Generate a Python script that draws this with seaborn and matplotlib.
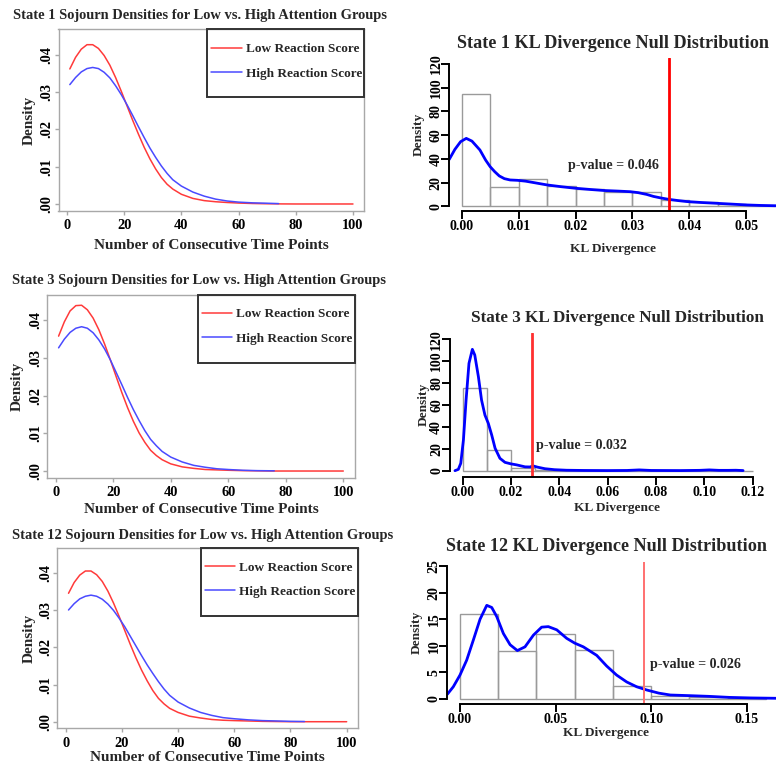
import numpy as np
import matplotlib
matplotlib.use("Agg")
import matplotlib.pyplot as plt
from matplotlib.patches import Rectangle
import seaborn as sns

# ---------------- data ----------------
# Sojourn densities (left column): number of consecutive time points vs density
sj_x = [1, 3, 5, 7, 9, 11, 13, 15, 17, 19, 21, 23, 25, 27, 29, 31, 33, 35, 37,
        40, 44, 48, 52, 56, 60, 65, 70, 75, 80, 90, 100]

s1_low = [0.0362, 0.0393, 0.0415, 0.0427, 0.0427, 0.0417, 0.0398, 0.0372, 0.0339, 0.0302,
          0.0263, 0.0224, 0.0187, 0.0152, 0.0121, 0.0094, 0.0071, 0.0053, 0.0040,
          0.0026, 0.0015, 0.0009, 0.0006, 0.0004, 0.00025, 0.00013, 0.00006, 0.00002, 0.0, 0.0, 0.0]
s1_high_x = [1, 3, 5, 7, 9, 11, 13, 15, 17, 19, 21, 23, 25, 27, 29, 31, 33, 35, 37,
             40, 44, 48, 52, 56, 60, 65, 70, 74]
s1_high = [0.0320, 0.0339, 0.0354, 0.0363, 0.0366, 0.0363, 0.0353, 0.0338, 0.0317, 0.0293,
           0.0266, 0.0237, 0.0207, 0.0178, 0.0150, 0.0125, 0.0102, 0.0082, 0.0065,
           0.0048, 0.0032, 0.0021, 0.0013, 0.0008, 0.0005, 0.0003, 0.0002, 0.0001]

s3_low = [0.0358, 0.0396, 0.0425, 0.0439, 0.0440, 0.0428, 0.0406, 0.0375, 0.0337, 0.0295,
          0.0251, 0.0208, 0.0168, 0.0132, 0.0101, 0.0076, 0.0055, 0.0041, 0.0030,
          0.0019, 0.0011, 0.0007, 0.0004, 0.0003, 0.0002, 0.0001, 0.00005, 0.0, 0.0, 0.0, 0.0]
s3_high_x = [1, 3, 5, 7, 9, 11, 13, 15, 17, 19, 21, 23, 25, 27, 29, 31, 33, 35, 37,
             40, 44, 48, 52, 56, 60, 65, 70, 76]
s3_high = [0.0327, 0.0350, 0.0368, 0.0379, 0.0383, 0.0379, 0.0367, 0.0348, 0.0324, 0.0295,
           0.0262, 0.0229, 0.0195, 0.0163, 0.0134, 0.0107, 0.0084, 0.0067, 0.0052,
           0.0037, 0.0024, 0.0015, 0.0010, 0.0006, 0.0004, 0.0002, 0.0001, 0.00005]

s12_low = [0.0346, 0.0375, 0.0395, 0.0406, 0.0406, 0.0396, 0.0378, 0.0352, 0.0320, 0.0284,
           0.0246, 0.0208, 0.0172, 0.0139, 0.0110, 0.0084, 0.0063, 0.0048, 0.0036,
           0.0025, 0.0015, 0.0010, 0.0006, 0.0004, 0.0003, 0.0002, 0.0001, 0.00005, 0.0, 0.0, 0.0]
s12_high_x = [1, 3, 5, 7, 9, 11, 13, 15, 17, 19, 21, 23, 25, 27, 29, 31, 33, 35, 37,
              40, 44, 48, 52, 56, 60, 65, 70, 75, 80, 85]
s12_high = [0.0301, 0.0318, 0.0331, 0.0338, 0.0341, 0.0338, 0.0330, 0.0317, 0.0300, 0.0279,
            0.0256, 0.0230, 0.0204, 0.0178, 0.0153, 0.0130, 0.0108, 0.0088, 0.0071,
            0.0053, 0.0037, 0.0025, 0.0017, 0.0011, 0.0008, 0.0005, 0.0003, 0.0002, 0.0001, 0.00005]

sj_xticks = [0, 20, 40, 60, 80, 100]
sj_yticks = [0.00, 0.01, 0.02, 0.03, 0.04]
sj_yticklabels = [".00", ".01", ".02", ".03", ".04"]

# KL divergence null distributions (right column)
kl1_edges = [0.000, 0.005, 0.010, 0.015, 0.020, 0.025, 0.030, 0.035, 0.040, 0.045, 0.050, 0.055]
kl1_hist = [94.4, 16.5, 22.8, 17.4, 14.3, 12.3, 11.8, 5.3, 3.9, 1.9, 0.6]
kl1_kde_x = [-0.0022, -0.0012, -0.0002, 0.0008, 0.0018, 0.0032, 0.0042, 0.0050, 0.0058, 0.0066, 0.0075,
             0.0085, 0.0098, 0.0112, 0.0130, 0.0150, 0.0175, 0.0200, 0.0225, 0.0250, 0.0275, 0.0296,
             0.0310, 0.0325, 0.0337, 0.0350, 0.0363, 0.0380, 0.0395, 0.0420, 0.0448, 0.0475, 0.0501,
             0.0525, 0.0555]
kl1_kde_y = [39.5, 48.0, 54.5, 57.3, 55.0, 47.5, 39.0, 33.4, 29.2, 25.6, 23.3,
             22.2, 21.9, 21.2, 19.7, 18.0, 16.5, 15.2, 14.2, 13.3, 12.8, 12.3,
             11.5, 10.0, 8.3, 7.0, 5.9, 4.8, 4.0, 3.2, 2.5, 1.8, 1.1,
             0.7, 0.4]
kl1_obs = 0.0364
kl1_p = "p-value = 0.046"

kl3_edges = [0.00, 0.01, 0.02, 0.03, 0.04, 0.05, 0.06, 0.07, 0.08, 0.09, 0.10, 0.11, 0.12]
kl3_hist = [75.2, 19.2, 2.6, 0.6, 0.2, 0.1, 0.0, 0.2, 0.0, 0.0, 0.2, 0.1]
kl3_kde_x = [-0.0032, -0.0018, -0.0008, 0.0003, 0.0014, 0.0026, 0.0040, 0.0050, 0.0065, 0.0078, 0.0092,
             0.0106, 0.0120, 0.0134, 0.0154, 0.0175, 0.0200, 0.0223, 0.0258, 0.0278, 0.0292, 0.0310,
             0.0340, 0.0380, 0.0430, 0.0500, 0.0600, 0.0680, 0.0730, 0.0780, 0.0900, 0.0980, 0.1020,
             0.1060, 0.1100, 0.1130, 0.1160]
kl3_kde_y = [0.0, 1.2, 6.7, 28.0, 64.5, 98.0, 110.8, 105.6, 85.8, 64.5, 50.8,
             43.2, 32.6, 20.5, 11.3, 7.6, 6.2, 5.3, 3.5, 3.4, 4.3, 3.2,
             1.8, 0.9, 0.4, 0.2, 0.1, 0.2, 0.7, 0.2, 0.1, 0.3, 0.7,
             0.3, 0.3, 0.4, 0.1]
kl3_obs = 0.0287
kl3_p = "p-value = 0.032"

kl12_edges = [0.00, 0.02, 0.04, 0.06, 0.08, 0.10, 0.12, 0.14, 0.16]
kl12_hist = [15.9, 9.1, 12.3, 9.3, 2.4, 0.56, 0.3, 0.1]
kl12_kde_x = [-0.0066, -0.0035, 0.0000, 0.0035, 0.0070, 0.0105, 0.0140, 0.0166, 0.0192, 0.0227, 0.0262,
              0.0300, 0.0340, 0.0384, 0.0427, 0.0462, 0.0506, 0.0558, 0.0600, 0.0645, 0.0715, 0.0767,
              0.0819, 0.0872, 0.0924, 0.0976, 0.1040, 0.1100, 0.1200, 0.1300, 0.1410, 0.1520, 0.1660]
kl12_kde_y = [0.9, 2.3, 4.5, 7.3, 11.1, 15.0, 17.6, 17.2, 15.5, 12.3, 10.2,
              9.1, 9.8, 12.0, 13.5, 13.6, 13.0, 11.4, 10.5, 9.8, 8.2, 6.2,
              4.5, 3.2, 2.3, 1.7, 1.1, 0.75, 0.63, 0.5, 0.3, 0.2, 0.13]
kl12_obs = 0.0963
kl12_p = "p-value = 0.026"

# ---------------- style ----------------
sns.set_style("ticks")
plt.rcParams["font.family"] = ["Liberation Serif", "DejaVu Serif"]
plt.rcParams["font.weight"] = "bold"
plt.rcParams["axes.labelweight"] = "bold"

W, H = 776, 764
fig = plt.figure(figsize=(W / 100, H / 100), dpi=100)


def px_axes(x0, y0, x1, y1):
    return fig.add_axes([x0 / W, 1 - y1 / H, (x1 - x0) / W, (y1 - y0) / H])


LOW_C = "#ff3a3a"
HIGH_C = "#4a4aff"
GRID_C = "#a8a8a8"


def sojourn_panel(box, title, title_xy, low_x, low_y, high_x, high_y, ylab_off, xlab_off):
    ax = px_axes(*box)
    wpx = box[2] - box[0]
    hpx = box[3] - box[1]
    sns.lineplot(x=low_x, y=low_y, color=LOW_C, lw=1.1, label="Low Reaction Score",
                 estimator=None, sort=False, ax=ax)
    sns.lineplot(x=high_x, y=high_y, color=HIGH_C, lw=1.1, label="High Reaction Score",
                 estimator=None, sort=False, ax=ax)
    ax.set_xlim(-2.96, 103.96)
    ax.set_ylim(-0.0018, 0.0468)
    ax.set_xticks(sj_xticks)
    ax.set_yticks(sj_yticks)
    ax.set_yticklabels(sj_yticklabels)
    for s in ax.spines.values():
        s.set_visible(True)
        s.set_color(GRID_C)
        s.set_linewidth(1.0)
    ax.tick_params(axis="both", colors=GRID_C, labelcolor="black", length=3, width=1,
                   labelsize=10.4, pad=3)
    ax.tick_params(axis="y", labelrotation=90, pad=0.8)
    for lab in ax.get_yticklabels():
        lab.set_va("center")
    ax.set_xlabel("Number of Consecutive Time Points", fontsize=11, fontweight="bold")
    ax.set_ylabel("Density", fontsize=11, fontweight="bold")
    ax.yaxis.set_label_coords(-ylab_off / wpx, 0.5)
    ax.xaxis.set_label_coords(0.5, -(xlab_off / hpx))

    # legend box flush with the upper-right corner of the plot region
    bw, bh = 157, 68
    ax.add_patch(Rectangle((1 - bw / wpx, 1 - bh / hpx), bw / wpx, bh / hpx,
                           transform=ax.transAxes, fill=False, ec="#333333", lw=1.4,
                           clip_on=False, zorder=5))
    ax.legend(loc="upper left", bbox_to_anchor=(1 - (bw - 4) / wpx, 1 - 13.5 / hpx),
              borderaxespad=0, borderpad=0, frameon=False, handlelength=2.3,
              handletextpad=0.3, labelspacing=0.92, prop={"weight": "bold", "size": 9.5})
    fig.text(title_xy[0] / W, 1 - title_xy[1] / H, title, ha="left", va="center",
             fontsize=10.45, fontweight="bold")
    return ax


def kl_panel(box, xlim, ylim, edges, heights, kx, ky, obs, ptxt, pxy, xticks, xticklabels,
             yticks, title, title_xy, title_size, obs_color, obs_lw, ylab_off, xlab_off):
    ax = px_axes(*box)
    wpx = box[2] - box[0]
    hpx = box[3] - box[1]
    centers = [(a + b) / 2 for a, b in zip(edges[:-1], edges[1:])]
    sns.histplot(x=centers, weights=heights, bins=edges, stat="count", fill=False,
                 element="bars", color="#9a9a9a", linewidth=1.0, ax=ax)
    sns.lineplot(x=kx, y=ky, color="#0000ff", lw=2.0, estimator=None, sort=False, ax=ax)
    ax.axvline(obs, color=obs_color, lw=obs_lw)
    ax.text(pxy[0], pxy[1], ptxt, ha="center", va="center", fontsize=10.1, fontweight="bold")
    ax.set_xlim(*xlim)
    ax.set_ylim(*ylim)
    ax.set_xticks(xticks)
    ax.set_xticklabels(xticklabels)
    ax.set_yticks(yticks)
    ax.set_yticklabels([str(v) for v in yticks])
    ax.spines["top"].set_visible(False)
    ax.spines["right"].set_visible(False)
    ax.spines["left"].set_bounds(yticks[0], yticks[-1])
    ax.spines["bottom"].set_bounds(xticks[0], xticks[-1])
    for s in ("left", "bottom"):
        ax.spines[s].set_color("black")
        ax.spines[s].set_linewidth(1.4)
    ax.tick_params(axis="both", colors="black", length=5.5, width=1.4, labelsize=10, pad=1.2)
    ax.tick_params(axis="y", labelrotation=90, pad=-0.6)
    for lab in ax.get_yticklabels():
        lab.set_va("center")
    ax.set_xlabel("KL Divergence", fontsize=9.6, fontweight="bold")
    ax.set_ylabel("Density", fontsize=9.6, fontweight="bold")
    ax.yaxis.set_label_coords(-ylab_off / wpx, 0.5)
    ax.xaxis.set_label_coords((title_xy[0] - box[0]) / wpx, -(xlab_off / hpx))
    fig.text(title_xy[0] / W, 1 - title_xy[1] / H, title, ha="center", va="center",
             fontsize=title_size, fontweight="bold")
    return ax


# left column
sojourn_panel((58.5, 29.4, 364.3, 210.7),
              "State 1 Sojourn Densities for Low vs. High Attention Groups", (13, 15),
              sj_x, s1_low, s1_high_x, s1_high, 22.5, 28.5)
sojourn_panel((47.2, 294.7, 354.7, 477.8),
              "State 3 Sojourn Densities for Low vs. High Attention Groups", (11.5, 280),
              sj_x, s3_low, s3_high_x, s3_high, 23, 25.5)
sojourn_panel((57.4, 548.0, 357.8, 728.4),
              "State 12 Sojourn Densities for Low vs. High Attention Groups", (11.5, 535),
              sj_x, s12_low, s12_high_x, s12_high, 21.6, 22.3)

# right column
kl_panel((449.3, 58.3, 777.0, 211.0), (-0.00218, 0.0554), (-4.0, 124.9),
         kl1_edges, kl1_hist, kl1_kde_x, kl1_kde_y, kl1_obs, kl1_p, (0.0266, 34.3),
         [0.00, 0.01, 0.02, 0.03, 0.04, 0.05], ["0.00", "0.01", "0.02", "0.03", "0.04", "0.05"],
         [0, 20, 40, 60, 80, 100, 120],
         "State 1 KL Divergence Null Distribution", (613, 43), 13.1, "#ff0000", 2.0, 24.5, 31.6)
kl_panel((450.0, 332.7, 786.6, 476.7), (-0.00525, 0.134), (-5.5, 126.0),
         kl3_edges, kl3_hist, kl3_kde_x, kl3_kde_y, kl3_obs, kl3_p, (0.0492, 22.8),
         [0.00, 0.02, 0.04, 0.06, 0.08, 0.10, 0.12],
         ["0.00", "0.02", "0.04", "0.06", "0.08", "0.10", "0.12"],
         [0, 20, 40, 60, 80, 100, 120],
         "State 3 KL Divergence Null Distribution", (617.2, 318), 12.3, "#ff3030", 2.0, 20, 25.6)
kl_panel((447.3, 561.7, 790.0, 704.0), (-0.00664, 0.1726), (-0.94, 25.8),
         kl12_edges, kl12_hist, kl12_kde_x, kl12_kde_y, kl12_obs, kl12_p, (0.123, 6.4),
         [0.00, 0.05, 0.10, 0.15], ["0.00", "0.05", "0.10", "0.15"],
         [0, 5, 10, 15, 20, 25],
         "State 12 KL Divergence Null Distribution", (606, 546.7), 13.1, "#ff7070", 1.4, 25, 23.3)

fig.savefig("out.png", dpi=100)
